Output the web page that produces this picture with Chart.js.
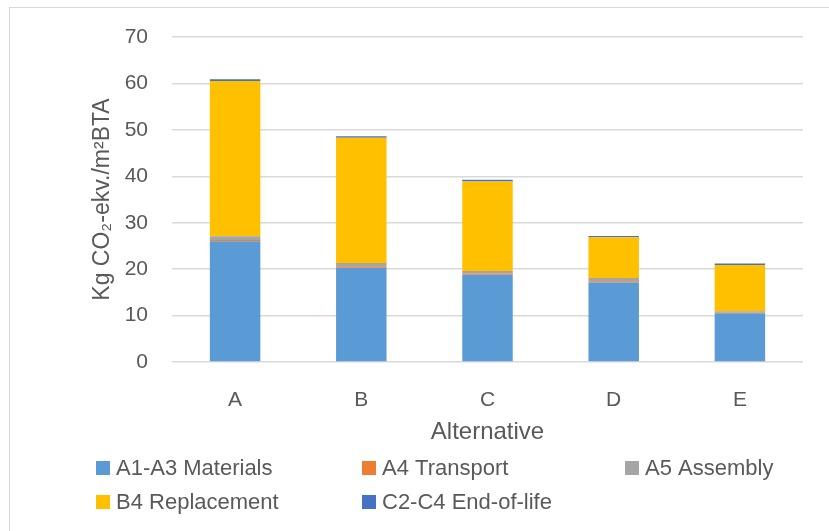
<!DOCTYPE html>
<html lang="en">
<head>
    <meta charset="UTF-8">
    <title>Kg CO2-ekv per alternativ</title>
    <script src="https://cdn.jsdelivr.net/npm/chart.js"></script>
    <style>
        body { margin: 0; background: #fff; }
    </style>
</head>
<body>

<canvas id="co2Chart" width="829" height="531"></canvas>

<script>
    // Data
    var alternatives = ['A', 'B', 'C', 'D', 'E'];
    var materials   = [26.0, 20.3, 18.8, 17.1, 10.5];
    var transport   = [0.3, 0.3, 0.25, 0.3, 0.15];
    var assembly    = [0.8, 0.7, 0.55, 0.7, 0.3];
    var replacement = [33.4, 27.0, 19.3, 8.75, 9.95];
    var endOfLife   = [0.4, 0.35, 0.35, 0.3, 0.3];
    var yTicks = [0, 10, 20, 30, 40, 50, 60, 70];

    var textColor = '#595959';
    var fontFamily = "'Liberation Sans', Arial, sans-serif";

    // Excel-like legend: fixed 3-column grid under the axis title
    var gridLegend = {
        id: 'gridLegend',
        afterDraw: function(chart) {
            var ctx = chart.ctx;
            var colX = [96, 362, 625];
            ctx.save();
            ctx.font = '22px ' + fontFamily;
            ctx.textBaseline = 'middle';
            chart.data.datasets.forEach(function(ds, i) {
                var x = colX[i % 3];
                var y = 468 + Math.floor(i / 3) * 34;
                ctx.fillStyle = ds.backgroundColor;
                ctx.fillRect(x, y - 7, 14, 14);
                ctx.fillStyle = textColor;
                ctx.fillText(ds.label, x + 20, y + 1);
            });
            // chart frame
            ctx.strokeStyle = '#d9d9d9';
            ctx.lineWidth = 1;
            ctx.strokeRect(9.5, 7.5, 900, 900);
            ctx.restore();
        }
    };

    var ctx = document.getElementById('co2Chart').getContext('2d');
    var chart = new Chart(ctx, {
        type: 'bar',
        data: {
            labels: alternatives,
            datasets: [
                { label: 'A1-A3 Materials', data: materials, backgroundColor: '#5B9BD5' },
                { label: 'A4 Transport', data: transport, backgroundColor: '#ED7D31' },
                { label: 'A5 Assembly', data: assembly, backgroundColor: '#A5A5A5' },
                { label: 'B4 Replacement', data: replacement, backgroundColor: '#FFC000' },
                { label: 'C2-C4 End-of-life', data: endOfLife, backgroundColor: '#4472C4' }
            ]
        },
        options: {
            responsive: false,
            animation: false,
            datasets: {
                bar: { categoryPercentage: 1, barPercentage: 0.4 }
            },
            layout: {
                padding: { top: 37, right: 26, bottom: 84, left: 0 }
            },
            plugins: {
                legend: { display: false },
                tooltip: { enabled: false }
            },
            scales: {
                x: {
                    stacked: true,
                    grid: { display: false },
                    border: { display: false },
                    ticks: { color: textColor, font: { family: fontFamily, size: 21 }, padding: 18 },
                    title: {
                        display: true,
                        text: 'Alternative',
                        color: textColor,
                        font: { family: fontFamily, size: 24 },
                        padding: 0
                    },
                    afterFit: function(scale) { scale.height = 85; }
                },
                y: {
                    stacked: true,
                    min: 0,
                    max: 70,
                    afterBuildTicks: function(scale) {
                        scale.ticks = yTicks.map(function(v) { return { value: v }; });
                    },
                    grid: { color: '#d9d9d9', lineWidth: 1.5, drawTicks: false },
                    border: { display: false },
                    ticks: { color: textColor, font: { family: fontFamily, size: 21 }, padding: 24 },
                    title: {
                        display: true,
                        text: 'Kg CO\u2082-ekv./m\u00B2BTA',
                        color: textColor,
                        font: { family: fontFamily, size: 23 },
                        padding: { top: 89, bottom: 0 }
                    },
                    afterFit: function(scale) { scale.width = 172; }
                }
            }
        },
        plugins: [gridLegend]
    });
</script>

</body>
</html>
